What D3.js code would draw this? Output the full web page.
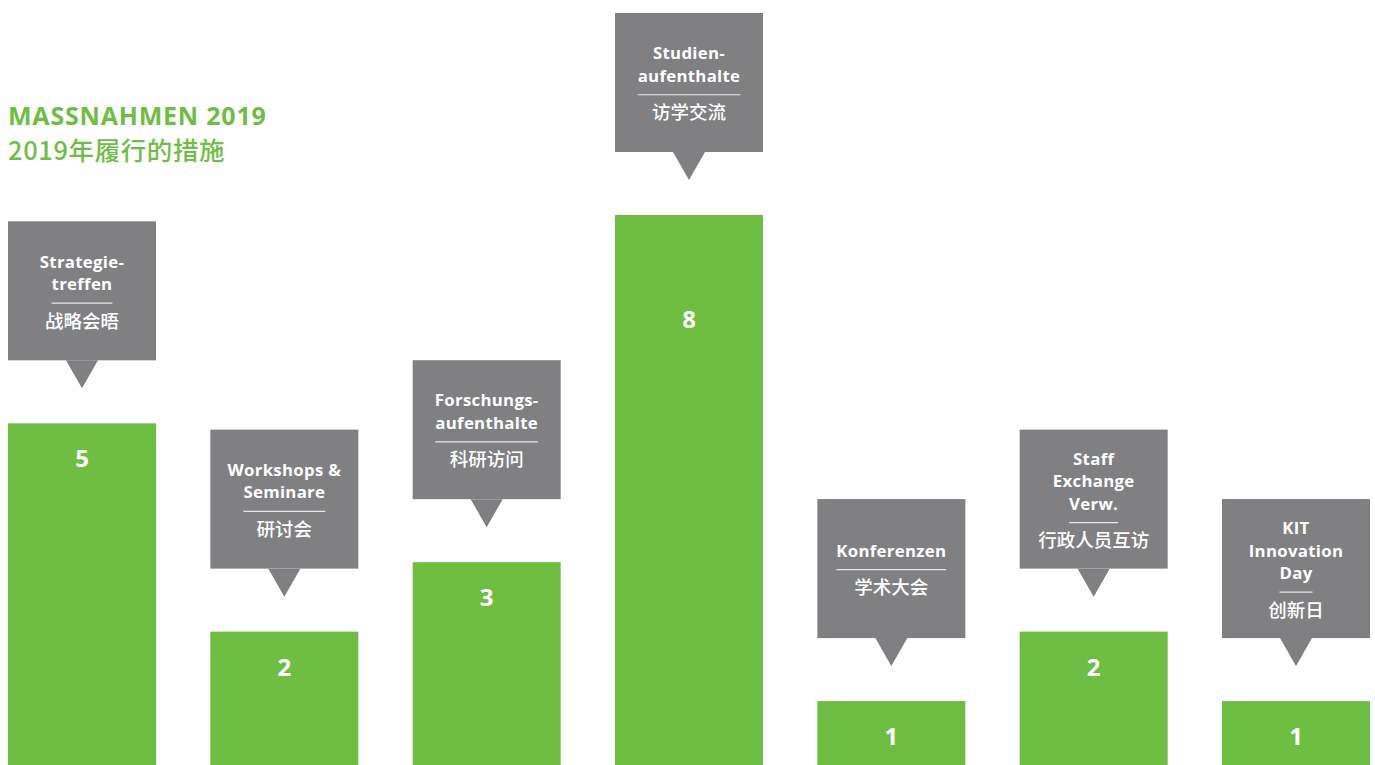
<!DOCTYPE html>
<html>
<head>
<meta charset="utf-8">
<script src="https://cdn.jsdelivr.net/npm/d3@7"></script>
<style>
  body { margin: 0; background: #fff; }
  svg { display: block; }
  text { font-family: "Open Sans", "Noto Sans CJK SC", sans-serif; }
</style>
</head>
<body>
<div id="chart"></div>
<script>
// data
var categories = ["Strategietreffen", "Workshops & Seminare", "Forschungsaufenthalte", "Studienaufenthalte", "Konferenzen", "Staff Exchange Verw.", "KIT Innovation Day"];
var labelLines = [
  ["Strategie-", "treffen"],
  ["Workshops &", "Seminare"],
  ["Forschungs-", "aufenthalte"],
  ["Studien-", "aufenthalte"],
  ["Konferenzen"],
  ["Staff", "Exchange", "Verw."],
  ["KIT", "Innovation", "Day"]
];
var chineseLabels = ["战略会晤", "研讨会", "科研访问", "访学交流", "学术大会", "行政人员互访", "创新日"];
var values = [5, 2, 3, 8, 1, 2, 1];

var svgWidth = 1375;
var svgHeight = 765;
var green = "#6fbe44";
var grey = "#808083";

var svg = d3.select("#chart")
  .append("svg")
  .attr("width", svgWidth)
  .attr("height", svgHeight);

// title
svg.append("text")
  .attr("x", 8)
  .attr("y", 125)
  .attr("fill", green)
  .style("font-size", "25px")
  .style("letter-spacing", "0.8px")
  .style("font-weight", "bold")
  .text("MASSNAHMEN 2019");

svg.append("text")
  .attr("x", 8)
  .attr("y", 160)
  .attr("fill", green)
  .style("font-size", "25.5px")
  .style("letter-spacing", "0.6px")
  .style("font-family", "'Noto Sans CJK SC', sans-serif")
  .style("font-weight", "500")
  .text("2019年履行的措施");

// scales
var xScale = d3.scaleBand()
  .domain(categories)
  .range([8, 1370])
  .paddingInner(0.2685)
  .paddingOuter(0);

var yScale = d3.scaleLinear()
  .domain([0, 8])
  .range([770.5, 215]);

var data = categories.map(function(c, i) {
  return { cat: c, value: values[i], lines: labelLines[i], zh: chineseLabels[i] };
});

var bw = xScale.bandwidth();
var maxVal = d3.max(values);

// bars
svg.selectAll(".bar")
  .data(data)
  .enter()
  .append("rect")
  .attr("class", "bar")
  .attr("x", d => xScale(d.cat))
  .attr("y", d => yScale(d.value))
  .attr("width", bw)
  .attr("height", d => svgHeight - yScale(d.value))
  .attr("fill", green);

// value labels (the tallest bar has its number lower down)
svg.selectAll(".valueText")
  .data(data)
  .enter()
  .append("text")
  .attr("class", "valueText")
  .attr("x", d => xScale(d.cat) + bw / 2)
  .attr("y", d => (d.value === maxVal ? yScale(d.value - 1.5) : yScale(d.value) + 35) + 9)
  .attr("text-anchor", "middle")
  .attr("fill", "#fff")
  .style("font-size", "24px")
  .style("font-weight", "bold")
  .text(d => d.value);

// callouts
var boxH = 139, gap = 63, triH = 28, triW = 16;

var callouts = svg.selectAll(".callout")
  .data(data)
  .enter()
  .append("g")
  .attr("class", "callout")
  .attr("transform", d => `translate(${xScale(d.cat)}, ${yScale(d.value) - gap - boxH})`);

callouts.append("rect")
  .attr("width", bw)
  .attr("height", boxH)
  .attr("fill", grey);

callouts.append("path")
  .attr("d", `M${bw / 2 - triW},${boxH} L${bw / 2 + triW},${boxH} L${bw / 2},${boxH + triH} Z`)
  .attr("fill", grey);

callouts.each(function(d) {
  var g = d3.select(this);
  var n = d.lines.length;
  var lineH = 22.5;
  // block: german lines, separator, chinese line
  var blockH = (n - 1) * lineH + 19 + 18;
  var firstCenter = boxH / 2 - blockH / 2 + 0.5;
  var cx = bw / 2;
  var last;
  d.lines.forEach(function(l, i) {
    last = g.append("text")
      .attr("x", cx)
      .attr("y", firstCenter + i * lineH + 6)
      .attr("text-anchor", "middle")
      .attr("fill", "#fff")
      .style("font-size", "16.8px")
      .style("letter-spacing", "0.3px")
      .style("font-weight", "bold")
      .text(l);
  });
  var lw = last.node().getComputedTextLength();
  var sepY = firstCenter + (n - 1) * lineH + 19;
  g.append("line")
    .attr("x1", cx - lw / 2)
    .attr("x2", cx + lw / 2)
    .attr("y1", sepY)
    .attr("y2", sepY)
    .attr("stroke", "#e6e6e6")
    .attr("stroke-width", 1.2);
  g.append("text")
    .attr("x", cx)
    .attr("y", sepY + 18 + 6.5)
    .attr("text-anchor", "middle")
    .attr("fill", "#fff")
    .style("font-size", "18.5px")
    .style("font-family", "'Noto Sans CJK SC', sans-serif")
    .style("font-weight", "500")
    .text(d.zh);
});
</script>
</body>
</html>
